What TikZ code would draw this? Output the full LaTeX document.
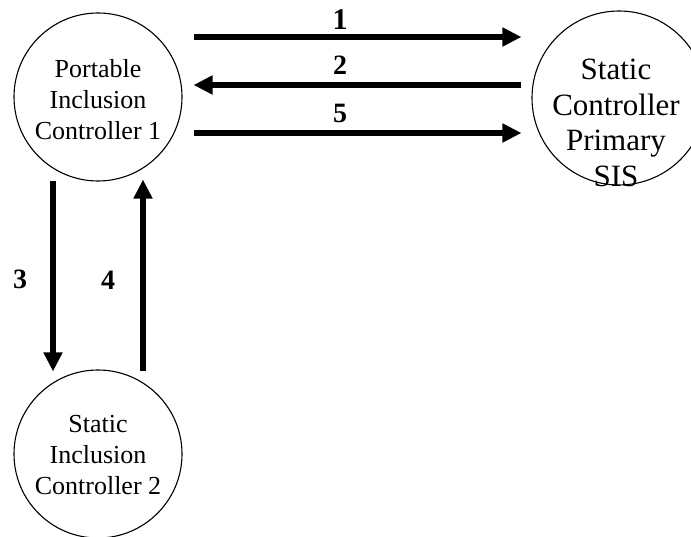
\documentclass[tikz,border=0pt]{standalone}
\usepackage{fontspec}
\setmainfont{Liberation Serif}
\usetikzlibrary{arrows.meta}
\tikzset{
  ctrl/.style={circle, draw, line width=1.1pt, minimum size=168pt, inner sep=0pt},
  ctrltext/.style={align=center, inner sep=0pt, font=\fontsize{26}{31}\selectfont},
  bigtext/.style={align=center, inner sep=0pt, font=\fontsize{31}{35.5}\selectfont},
  flow/.style={line width=6.5pt, -{Triangle[length=19pt, width=18pt]}},
  num/.style={inner sep=0pt, font=\fontsize{28}{32}\selectfont\bfseries}
}
\begin{document}
\begin{tikzpicture}[x=1pt, y=-1pt]
\useasboundingbox (0,0) rectangle (691,537);
\node[ctrl] (c1) at (98,97) {};
\node[ctrltext] (t1) at (98,100) {Portable\\Inclusion\\Controller 1};
\node[ctrl, minimum size=174pt] (c2) at (619,98) {};
\node[bigtext] (t2) at (616,123) {Static\\Controller\\Primary\\SIS};
\node[ctrl] (c3) at (98,454) {};
\node[ctrltext] (t3) at (98,455) {Static\\Inclusion\\Controller 2};

\draw[flow] ([xshift=11pt,yshift=60pt]c1.east) -- ([xshift=-10pt,yshift=61pt]c2.west);
\draw[flow] ([xshift=-10pt,yshift=13pt]c2.west) -- ([xshift=11pt,yshift=12pt]c1.east);
\draw[flow] ([xshift=11pt,yshift=-36pt]c1.east) -- ([xshift=-10pt,yshift=-35pt]c2.west);
\draw[flow] ([xshift=-45pt,yshift=1pt]c1.south) -- ([xshift=-45pt,yshift=-2pt]c3.north);
\draw[flow] ([xshift=45pt,yshift=-2pt]c3.north) -- ([xshift=45pt,yshift=2pt]c1.south);

\node[num, font=\fontsize{30}{34}\selectfont\bfseries] (n1) at (340,20) {1};
\node[num] (n2) at (340,65) {2};
\node[num] (n5) at (340,113) {5};
\node[num] (n3) at (20,279) {3};
\node[num] (n4) at (108,280) {4};
\end{tikzpicture}
\end{document}
